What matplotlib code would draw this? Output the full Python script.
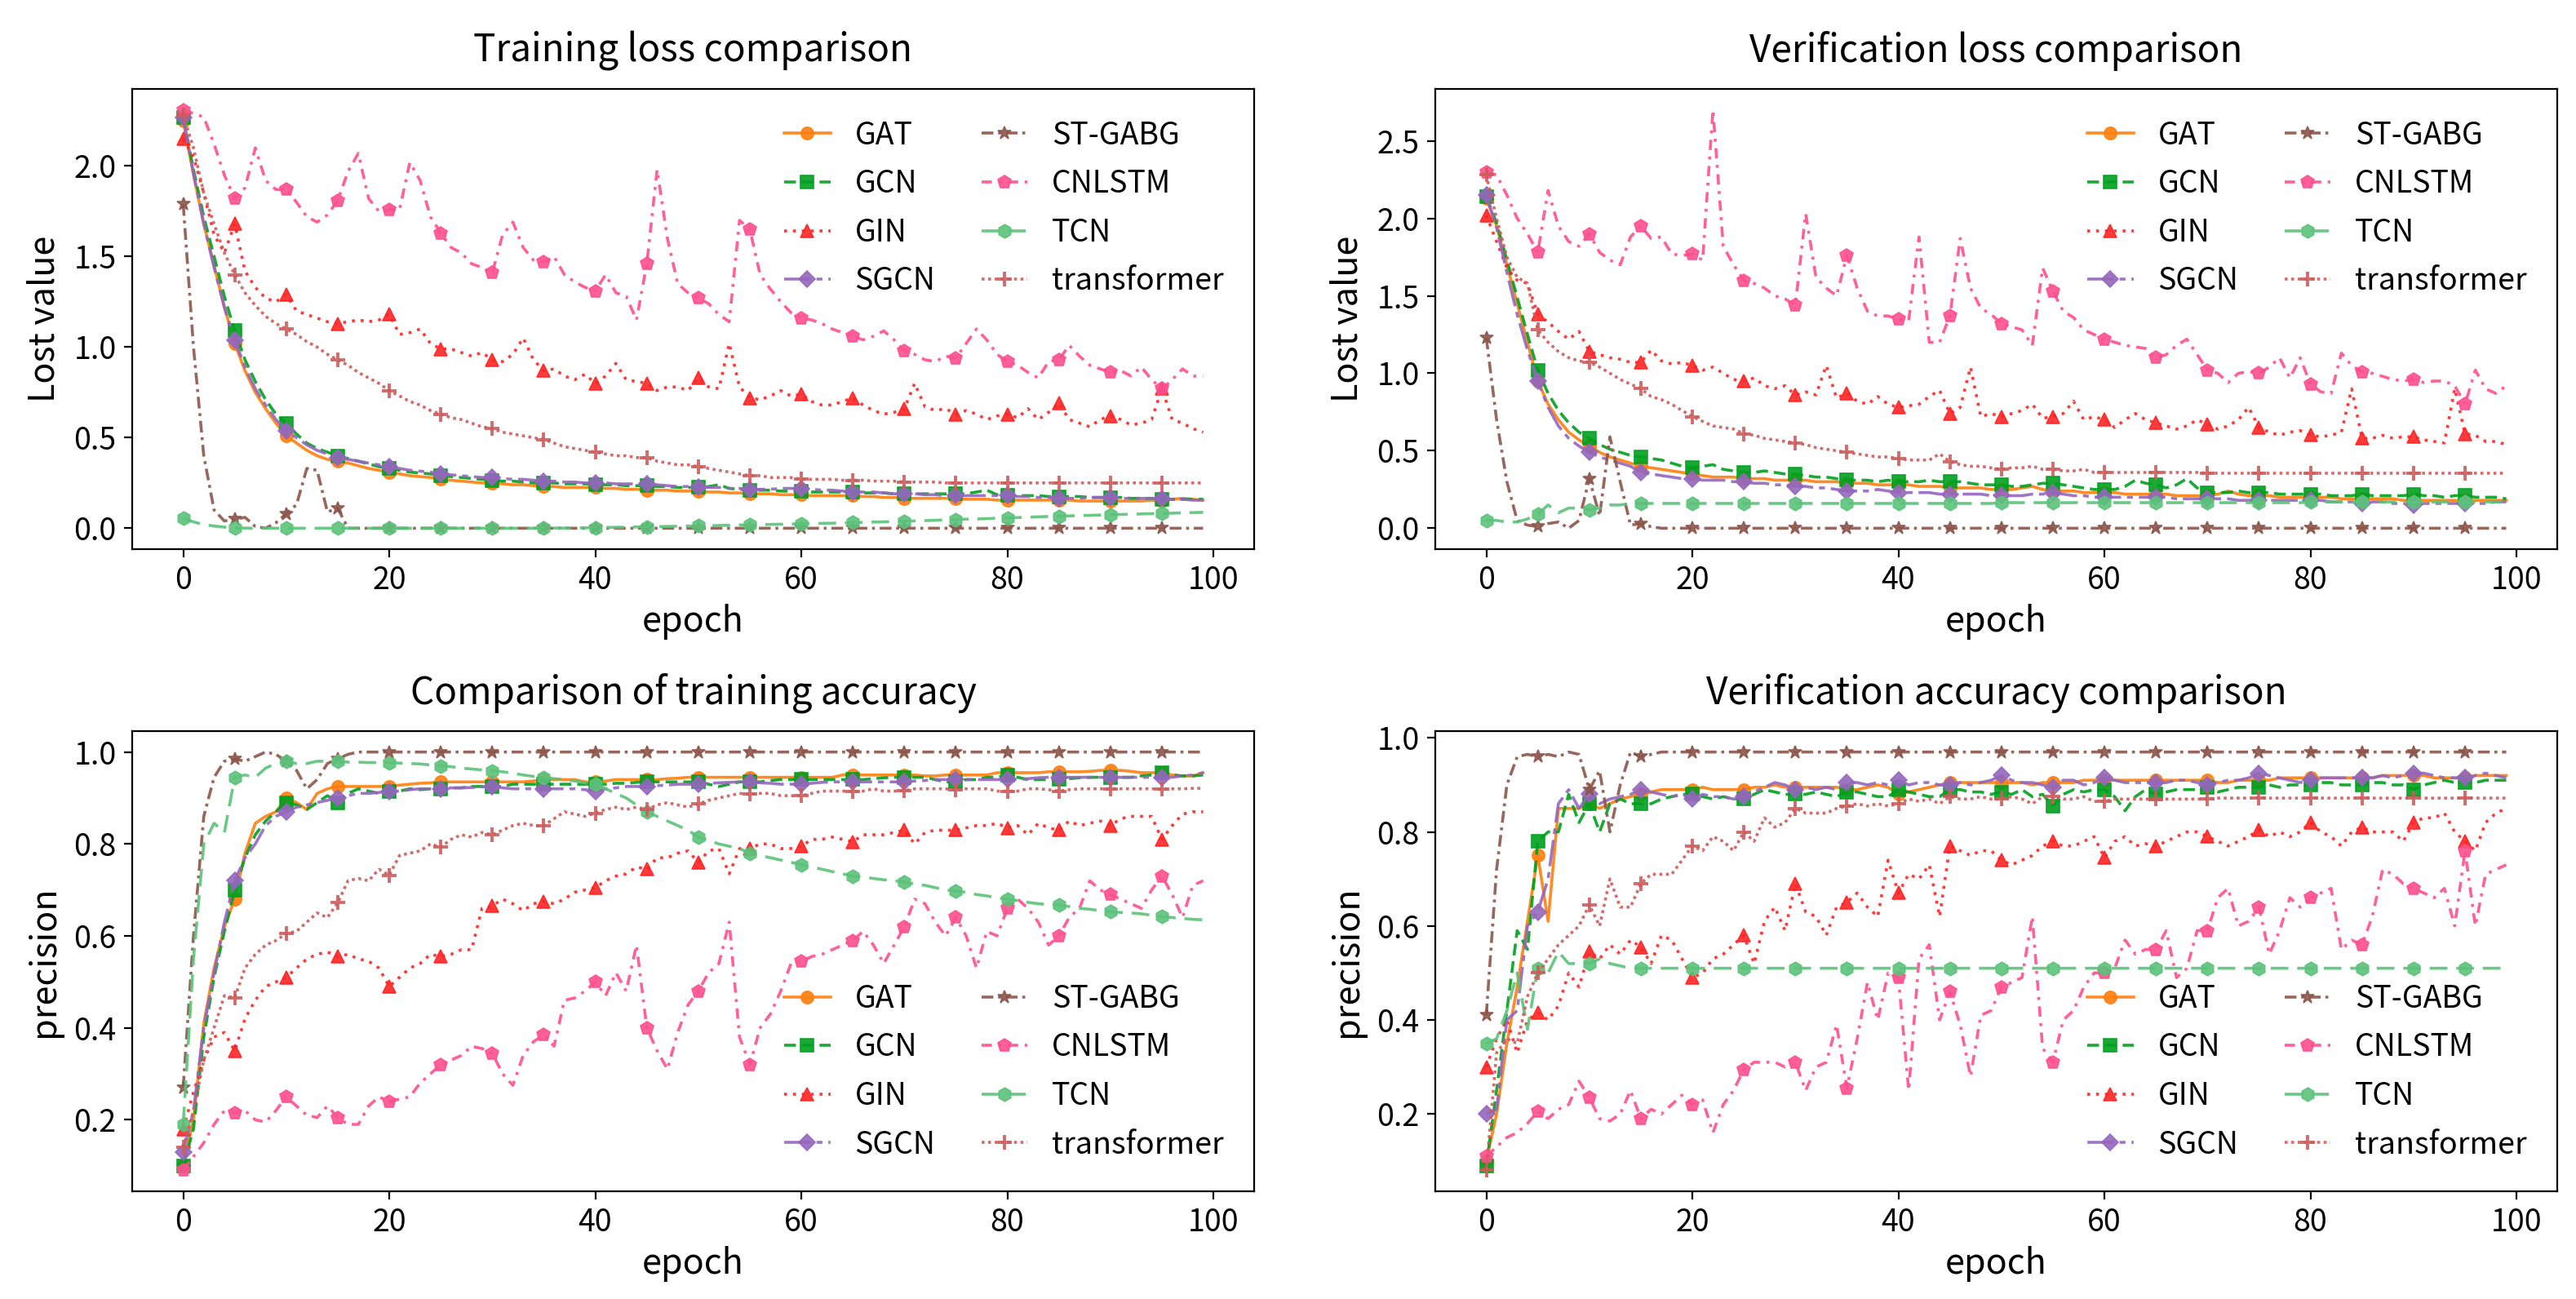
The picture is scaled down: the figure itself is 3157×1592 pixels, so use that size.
import matplotlib
matplotlib.use("Agg")
import matplotlib.pyplot as plt
import numpy as np

plt.rcParams['font.family'] = ['Noto Sans CJK SC', 'DejaVu Sans']

epochs = list(range(100))
models = ["GAT", "GCN", "GIN", "SGCN", "ST-GABG", "CNLSTM", "TCN", "transformer"]

# ---------------- Training loss ----------------
TL_GAT = [2.25,1.95,1.68,1.45,1.22,1.02,0.87,0.75,0.66,0.58,
          0.51,0.47,0.43,0.40,0.38,0.37,0.36,0.345,0.33,0.32,
          0.31,0.30,0.29,0.285,0.28,0.27,0.265,0.26,0.255,0.25,
          0.25,0.245,0.24,0.24,0.235,0.23,0.23,0.225,0.225,0.225,
          0.225,0.22,0.22,0.215,0.215,0.21,0.21,0.21,0.205,0.205,
          0.205,0.20,0.20,0.195,0.195,0.19,0.19,0.19,0.185,0.185,
          0.185,0.18,0.18,0.18,0.18,0.18,0.175,0.175,0.17,0.17,
          0.165,0.165,0.165,0.165,0.165,0.165,0.16,0.16,0.16,0.155,
          0.155,0.155,0.155,0.155,0.155,0.155,0.155,0.15,0.15,0.15,
          0.15,0.15,0.15,0.15,0.155,0.15,0.16,0.165,0.16,0.155]
TL_GCN = [2.27,1.98,1.72,1.50,1.28,1.09,0.93,0.81,0.71,0.63,
          0.58,0.52,0.47,0.44,0.42,0.40,0.385,0.37,0.355,0.34,
          0.33,0.32,0.31,0.305,0.30,0.29,0.285,0.28,0.275,0.27,
          0.265,0.26,0.26,0.255,0.25,0.25,0.25,0.245,0.245,0.245,
          0.24,0.24,0.24,0.235,0.235,0.235,0.23,0.23,0.225,0.225,
          0.225,0.23,0.24,0.22,0.215,0.21,0.21,0.21,0.205,0.205,
          0.205,0.20,0.20,0.20,0.20,0.20,0.195,0.195,0.195,0.19,
          0.19,0.19,0.19,0.19,0.19,0.19,0.19,0.20,0.21,0.185,
          0.18,0.18,0.18,0.18,0.175,0.175,0.175,0.175,0.17,0.17,
          0.17,0.17,0.165,0.165,0.165,0.16,0.16,0.16,0.16,0.16]
TL_GIN = [2.15,2.05,1.85,1.62,1.52,1.68,1.42,1.33,1.27,1.25,
          1.29,1.20,1.18,1.16,1.14,1.13,1.14,1.15,1.14,1.15,
          1.18,1.07,1.08,1.10,1.02,0.99,0.99,0.97,0.95,0.97,
          0.93,0.92,0.96,1.05,0.93,0.87,0.88,0.84,0.82,0.85,
          0.80,0.84,0.91,0.82,0.81,0.80,0.76,0.78,0.78,0.76,
          0.83,0.78,0.77,1.02,0.78,0.72,0.71,0.73,0.76,0.73,
          0.74,0.70,0.68,0.68,0.70,0.72,0.68,0.65,0.63,0.64,
          0.66,0.80,0.67,0.65,0.66,0.63,0.65,0.63,0.60,0.62,
          0.63,0.61,0.66,0.60,0.64,0.69,0.60,0.58,0.56,0.60,
          0.62,0.60,0.57,0.58,0.60,0.77,0.60,0.58,0.55,0.53]
TL_SGCN = [2.27,1.96,1.68,1.44,1.22,1.04,0.89,0.77,0.68,0.60,
           0.54,0.50,0.46,0.43,0.41,0.39,0.38,0.37,0.36,0.35,
           0.34,0.33,0.32,0.315,0.31,0.30,0.295,0.29,0.285,0.28,
           0.28,0.275,0.27,0.27,0.265,0.26,0.26,0.255,0.255,0.25,
           0.25,0.25,0.245,0.245,0.245,0.245,0.24,0.235,0.23,0.23,
           0.225,0.225,0.225,0.22,0.22,0.215,0.215,0.215,0.22,0.22,
           0.22,0.215,0.21,0.21,0.205,0.20,0.20,0.20,0.195,0.19,
           0.19,0.19,0.185,0.185,0.18,0.18,0.18,0.18,0.18,0.18,
           0.18,0.175,0.175,0.17,0.17,0.165,0.165,0.165,0.17,0.17,
           0.17,0.165,0.165,0.165,0.165,0.165,0.16,0.16,0.155,0.155]
TL_SGABG = [1.79,1.00,0.40,0.10,0.04,0.05,0.06,0.01,0.0,0.03,
            0.08,0.13,0.33,0.32,0.09,0.11,0.0,0.0,0.0,0.0,
            0.0,0.0,0.0,0.0,0.0,0.0,0.0,0.0,0.0,0.0,
            0.0,0.0,0.0,0.0,0.0,0.0,0.0,0.0,0.0,0.0,
            0.0,0.0,0.0,0.0,0.0,0.0,0.0,0.0,0.0,0.0,
            0.0,0.0,0.0,0.0,0.0,0.0,0.0,0.0,0.0,0.0,
            0.0,0.0,0.0,0.0,0.0,0.0,0.0,0.0,0.0,0.0,
            0.0,0.0,0.0,0.0,0.0,0.0,0.0,0.0,0.0,0.0,
            0.0,0.0,0.0,0.0,0.0,0.0,0.0,0.0,0.0,0.0,
            0.0,0.0,0.0,0.0,0.0,0.0,0.0,0.0,0.0,0.0]
TL_CNLSTM = [2.31,2.29,2.27,2.12,1.95,1.82,1.88,2.10,1.92,1.87,
             1.87,1.80,1.72,1.69,1.73,1.81,1.97,2.07,1.82,1.75,
             1.76,1.76,2.02,1.92,1.72,1.63,1.55,1.52,1.46,1.44,
             1.41,1.62,1.69,1.55,1.48,1.47,1.50,1.40,1.36,1.33,
             1.31,1.40,1.30,1.28,1.15,1.46,1.98,1.60,1.35,1.30,
             1.27,1.24,1.18,1.14,1.70,1.65,1.40,1.32,1.25,1.19,
             1.16,1.15,1.13,1.10,1.08,1.06,1.04,1.06,1.09,1.04,
             0.98,0.96,0.93,0.92,0.95,0.94,1.02,1.10,1.04,0.96,
             0.92,0.90,0.86,0.83,0.92,0.93,1.01,0.95,0.90,0.88,
             0.86,0.87,0.84,0.89,0.82,0.77,0.82,0.88,0.84,0.84]
TL_TCN = [0.055,0.035,0.02,0.012,0.006,0.002,0.001,0.0,0.0,0.0,
          0.0,0.0,0.0,0.0,0.0,0.0,0.0,0.0,0.0,0.0,
          0.0,0.0,0.0,0.0,0.0,0.0,0.0,0.0,0.0,0.0,
          0.0,0.0,0.0,0.0,0.0,0.0,0.001,0.001,0.002,0.002,
          0.003,0.004,0.005,0.006,0.007,0.008,0.009,0.01,0.011,0.012,
          0.013,0.014,0.015,0.016,0.018,0.019,0.02,0.021,0.022,0.023,
          0.025,0.026,0.027,0.028,0.03,0.031,0.032,0.034,0.035,0.037,
          0.039,0.04,0.042,0.044,0.046,0.048,0.05,0.051,0.053,0.055,
          0.057,0.059,0.061,0.063,0.065,0.066,0.068,0.07,0.071,0.073,
          0.074,0.076,0.077,0.079,0.08,0.082,0.083,0.085,0.086,0.088]
TL_TRANS = [2.28,2.10,1.85,1.68,1.52,1.40,1.30,1.23,1.17,1.13,
            1.10,1.07,1.03,1.00,0.96,0.93,0.90,0.86,0.83,0.80,
            0.76,0.73,0.70,0.68,0.65,0.63,0.61,0.60,0.58,0.56,
            0.55,0.53,0.52,0.51,0.50,0.49,0.47,0.45,0.44,0.43,
            0.42,0.41,0.40,0.40,0.39,0.39,0.37,0.36,0.35,0.35,
            0.34,0.33,0.32,0.31,0.30,0.29,0.29,0.28,0.28,0.28,
            0.27,0.27,0.27,0.27,0.265,0.265,0.265,0.26,0.26,0.26,
            0.255,0.255,0.255,0.255,0.25,0.25,0.25,0.25,0.25,0.25,
            0.25,0.25,0.25,0.25,0.25,0.25,0.25,0.25,0.25,0.25,
            0.25,0.25,0.25,0.25,0.25,0.25,0.25,0.25,0.25,0.25]

# ---------------- Verification loss ----------------
VL_GAT = [2.13,1.95,1.70,1.45,1.20,0.95,0.80,0.70,0.62,0.57,
          0.53,0.49,0.46,0.44,0.42,0.40,0.39,0.38,0.37,0.36,
          0.35,0.34,0.33,0.33,0.33,0.32,0.32,0.32,0.31,0.31,
          0.31,0.31,0.30,0.30,0.30,0.29,0.29,0.29,0.28,0.28,
          0.28,0.28,0.27,0.27,0.27,0.26,0.26,0.26,0.26,0.25,
          0.25,0.25,0.26,0.27,0.25,0.24,0.24,0.24,0.23,0.23,
          0.23,0.23,0.22,0.22,0.22,0.22,0.22,0.21,0.21,0.21,
          0.21,0.22,0.24,0.22,0.21,0.21,0.21,0.20,0.20,0.20,
          0.20,0.20,0.20,0.19,0.19,0.19,0.19,0.19,0.19,0.18,
          0.18,0.18,0.18,0.18,0.18,0.18,0.18,0.18,0.18,0.18]
VL_GCN = [2.14,1.97,1.73,1.49,1.25,1.02,0.87,0.76,0.68,0.62,
          0.58,0.54,0.51,0.49,0.47,0.46,0.45,0.44,0.42,0.40,
          0.39,0.40,0.41,0.38,0.37,0.36,0.36,0.37,0.36,0.35,
          0.35,0.34,0.33,0.33,0.32,0.31,0.31,0.31,0.30,0.31,
          0.30,0.30,0.30,0.31,0.30,0.30,0.30,0.29,0.28,0.28,
          0.28,0.27,0.27,0.28,0.29,0.29,0.28,0.27,0.26,0.25,
          0.25,0.25,0.27,0.31,0.29,0.28,0.26,0.28,0.32,0.26,
          0.23,0.23,0.23,0.24,0.23,0.23,0.23,0.22,0.22,0.22,
          0.22,0.22,0.21,0.21,0.21,0.22,0.21,0.21,0.21,0.21,
          0.22,0.21,0.21,0.20,0.21,0.21,0.20,0.20,0.20,0.19]
VL_GIN = [2.02,1.85,1.68,1.60,1.58,1.38,1.33,1.27,1.22,1.27,
          1.14,1.12,1.10,1.09,1.07,1.07,1.15,1.08,1.06,1.07,
          1.05,1.02,1.04,1.00,0.96,0.95,0.97,0.92,0.90,0.92,
          0.86,0.88,0.86,1.05,0.84,0.87,0.82,0.80,0.85,0.80,
          0.78,0.79,0.80,0.85,0.89,0.74,0.78,1.04,0.72,0.74,
          0.72,0.74,0.76,0.80,0.71,0.72,0.74,0.82,0.70,0.72,
          0.70,0.65,0.70,0.74,0.70,0.68,0.66,0.64,0.66,0.70,
          0.67,0.64,0.66,0.70,0.78,0.65,0.62,0.60,0.62,0.63,
          0.60,0.59,0.60,0.62,0.90,0.58,0.58,0.60,0.58,0.59,
          0.59,0.57,0.56,0.55,0.90,0.61,0.60,0.56,0.56,0.54]
VL_SGCN = [2.15,1.94,1.65,1.38,1.15,0.95,0.78,0.66,0.58,0.53,
           0.49,0.46,0.44,0.42,0.40,0.36,0.35,0.34,0.33,0.32,
           0.32,0.31,0.31,0.31,0.30,0.30,0.29,0.29,0.28,0.28,
           0.27,0.27,0.26,0.26,0.25,0.24,0.24,0.24,0.25,0.24,
           0.23,0.23,0.23,0.23,0.22,0.22,0.22,0.22,0.22,0.21,
           0.21,0.21,0.21,0.22,0.22,0.23,0.22,0.21,0.21,0.20,
           0.20,0.20,0.20,0.20,0.20,0.20,0.20,0.19,0.19,0.19,
           0.19,0.19,0.19,0.18,0.18,0.18,0.18,0.18,0.18,0.18,
           0.18,0.18,0.17,0.17,0.17,0.16,0.17,0.17,0.16,0.16,
           0.15,0.16,0.16,0.16,0.16,0.16,0.16,0.16,0.17,0.17]
VL_SGABG = [1.23,0.70,0.30,0.05,0.02,0.01,0.03,0.04,0.0,0.05,
            0.32,0.08,0.59,0.30,0.02,0.03,0.01,0.0,0.0,0.0,
            0.0,0.0,0.0,0.0,0.0,0.0,0.0,0.0,0.0,0.0,
            0.0,0.0,0.0,0.0,0.0,0.0,0.0,0.0,0.0,0.0,
            0.0,0.0,0.0,0.0,0.0,0.0,0.0,0.0,0.0,0.0,
            0.0,0.0,0.0,0.0,0.0,0.0,0.0,0.0,0.0,0.0,
            0.0,0.0,0.0,0.0,0.0,0.0,0.0,0.0,0.0,0.0,
            0.0,0.0,0.0,0.0,0.0,0.0,0.0,0.0,0.0,0.0,
            0.0,0.0,0.0,0.0,0.0,0.0,0.0,0.0,0.0,0.0,
            0.0,0.0,0.0,0.0,0.0,0.0,0.0,0.0,0.0,0.0]
VL_CNLSTM = [2.30,2.28,2.15,2.00,1.90,1.78,2.18,1.95,1.85,1.82,
             1.90,1.78,1.73,1.70,1.88,1.95,1.87,1.88,1.77,1.76,
             1.77,1.73,2.70,1.82,1.70,1.60,1.58,1.55,1.50,1.48,
             1.44,2.03,1.62,1.55,1.50,1.76,1.55,1.40,1.37,1.37,
             1.35,1.34,1.88,1.20,1.20,1.37,1.87,1.55,1.42,1.38,
             1.32,1.30,1.28,1.18,1.68,1.53,1.40,1.36,1.28,1.25,
             1.22,1.20,1.18,1.17,1.16,1.10,1.12,1.18,1.22,1.12,
             1.02,1.00,0.94,1.00,1.01,1.00,1.04,1.10,0.97,1.10,
             0.93,0.88,0.87,1.13,1.05,1.01,1.00,0.98,0.96,0.95,
             0.96,0.94,0.95,0.95,0.92,0.80,1.02,0.90,0.87,0.92]
VL_TCN = [0.05,0.05,0.04,0.04,0.06,0.09,0.15,0.10,0.13,0.13,
          0.12,0.13,0.15,0.15,0.16,0.16,0.16,0.16,0.16,0.16,
          0.16,0.16,0.16,0.16,0.16,0.16,0.16,0.16,0.16,0.16,
          0.16,0.16,0.16,0.16,0.16,0.16,0.16,0.16,0.16,0.16,
          0.16,0.16,0.16,0.16,0.16,0.16,0.16,0.16,0.16,0.16,
          0.165,0.165,0.165,0.165,0.165,0.165,0.165,0.165,0.165,0.165,
          0.165,0.165,0.165,0.165,0.165,0.165,0.165,0.165,0.165,0.165,
          0.165,0.165,0.165,0.165,0.165,0.165,0.165,0.165,0.165,0.165,
          0.17,0.17,0.17,0.17,0.17,0.17,0.17,0.17,0.17,0.17,
          0.17,0.17,0.17,0.17,0.17,0.17,0.17,0.17,0.17,0.17]
VL_TRANS = [2.28,2.00,1.75,1.62,1.58,1.28,1.20,1.14,1.10,1.08,
            1.07,1.04,1.00,0.96,0.93,0.90,0.85,0.83,0.80,0.76,
            0.72,0.69,0.66,0.65,0.64,0.61,0.60,0.58,0.57,0.56,
            0.55,0.54,0.52,0.51,0.50,0.49,0.48,0.47,0.46,0.46,
            0.45,0.44,0.44,0.44,0.48,0.43,0.41,0.40,0.40,0.39,
            0.38,0.39,0.39,0.40,0.38,0.38,0.37,0.37,0.38,0.36,
            0.36,0.36,0.36,0.36,0.36,0.36,0.36,0.36,0.36,0.36,
            0.355,0.355,0.355,0.355,0.355,0.355,0.355,0.355,0.355,0.355,
            0.355,0.355,0.355,0.355,0.355,0.355,0.355,0.355,0.355,0.355,
            0.355,0.355,0.355,0.355,0.355,0.355,0.355,0.355,0.355,0.355]

# ---------------- Training accuracy ----------------
TA_GAT = [0.10,0.20,0.41,0.53,0.62,0.68,0.78,0.845,0.86,0.87,
          0.90,0.89,0.875,0.91,0.92,0.925,0.925,0.925,0.925,0.925,
          0.925,0.928,0.93,0.932,0.933,0.935,0.935,0.935,0.935,0.935,
          0.935,0.935,0.935,0.935,0.937,0.94,0.94,0.94,0.94,0.935,
          0.935,0.937,0.94,0.94,0.94,0.94,0.94,0.942,0.943,0.945,
          0.945,0.945,0.945,0.945,0.945,0.945,0.945,0.945,0.945,0.945,
          0.945,0.945,0.945,0.945,0.95,0.95,0.95,0.95,0.95,0.95,
          0.95,0.95,0.948,0.948,0.95,0.95,0.95,0.95,0.95,0.955,
          0.955,0.955,0.955,0.955,0.957,0.957,0.957,0.957,0.958,0.96,
          0.96,0.96,0.958,0.955,0.955,0.955,0.95,0.948,0.948,0.955]
TA_GCN = [0.10,0.18,0.38,0.51,0.61,0.70,0.77,0.82,0.85,0.87,
          0.89,0.885,0.875,0.89,0.905,0.89,0.91,0.92,0.915,0.91,
          0.915,0.915,0.92,0.918,0.92,0.92,0.922,0.922,0.925,0.925,
          0.925,0.925,0.93,0.93,0.93,0.93,0.93,0.93,0.93,0.93,
          0.93,0.93,0.932,0.932,0.934,0.935,0.935,0.935,0.935,0.935,
          0.935,0.93,0.925,0.93,0.935,0.935,0.935,0.938,0.94,0.94,
          0.94,0.94,0.94,0.94,0.94,0.94,0.94,0.942,0.944,0.945,
          0.945,0.945,0.945,0.94,0.935,0.935,0.94,0.94,0.945,0.945,
          0.95,0.945,0.94,0.94,0.94,0.94,0.942,0.944,0.945,0.945,
          0.945,0.945,0.945,0.948,0.95,0.955,0.95,0.948,0.948,0.95]
TA_GIN = [0.18,0.26,0.33,0.38,0.39,0.35,0.42,0.46,0.49,0.50,
          0.51,0.53,0.55,0.56,0.565,0.555,0.56,0.55,0.545,0.53,
          0.49,0.51,0.53,0.54,0.56,0.555,0.56,0.57,0.57,0.66,
          0.665,0.68,0.67,0.655,0.67,0.675,0.67,0.68,0.695,0.70,
          0.705,0.72,0.73,0.735,0.75,0.745,0.77,0.77,0.78,0.785,
          0.76,0.785,0.79,0.735,0.79,0.79,0.80,0.80,0.79,0.79,
          0.795,0.81,0.81,0.815,0.81,0.805,0.82,0.82,0.82,0.825,
          0.83,0.80,0.825,0.83,0.83,0.83,0.835,0.84,0.84,0.845,
          0.835,0.84,0.82,0.845,0.835,0.83,0.85,0.84,0.845,0.85,
          0.84,0.855,0.86,0.86,0.86,0.81,0.84,0.865,0.87,0.87]
TA_SGCN = [0.13,0.22,0.40,0.52,0.63,0.72,0.77,0.80,0.84,0.86,
           0.87,0.88,0.885,0.89,0.895,0.90,0.905,0.91,0.91,0.912,
           0.915,0.915,0.918,0.92,0.92,0.92,0.922,0.922,0.923,0.924,
           0.925,0.922,0.92,0.92,0.92,0.92,0.92,0.92,0.92,0.918,
           0.915,0.92,0.922,0.925,0.925,0.925,0.927,0.928,0.93,0.93,
           0.93,0.932,0.933,0.934,0.935,0.935,0.933,0.932,0.93,0.93,
           0.93,0.932,0.934,0.935,0.935,0.935,0.935,0.935,0.935,0.935,
           0.935,0.937,0.938,0.94,0.94,0.94,0.94,0.94,0.94,0.94,
           0.94,0.94,0.942,0.944,0.945,0.945,0.945,0.945,0.945,0.945,
           0.945,0.945,0.945,0.945,0.945,0.945,0.945,0.948,0.95,0.955]
TA_SGABG = [0.27,0.60,0.86,0.945,0.98,0.985,0.98,0.99,1.0,0.995,
            0.98,0.96,0.92,0.94,0.975,0.985,0.995,1.0,1.0,1.0,
            1.0,1.0,1.0,1.0,1.0,1.0,1.0,1.0,1.0,1.0,
            1.0,1.0,1.0,1.0,1.0,1.0,1.0,1.0,1.0,1.0,
            1.0,1.0,1.0,1.0,1.0,1.0,1.0,1.0,1.0,1.0,
            1.0,1.0,1.0,1.0,1.0,1.0,1.0,1.0,1.0,1.0,
            1.0,1.0,1.0,1.0,1.0,1.0,1.0,1.0,1.0,1.0,
            1.0,1.0,1.0,1.0,1.0,1.0,1.0,1.0,1.0,1.0,
            1.0,1.0,1.0,1.0,1.0,1.0,1.0,1.0,1.0,1.0,
            1.0,1.0,1.0,1.0,1.0,1.0,1.0,1.0,1.0,1.0]
TA_CNLSTM = [0.09,0.12,0.15,0.19,0.22,0.215,0.22,0.20,0.195,0.22,
             0.25,0.23,0.21,0.205,0.23,0.205,0.19,0.19,0.23,0.25,
             0.24,0.245,0.25,0.28,0.30,0.32,0.33,0.34,0.36,0.355,
             0.345,0.30,0.275,0.34,0.37,0.385,0.36,0.46,0.465,0.48,
             0.50,0.47,0.52,0.48,0.58,0.40,0.35,0.31,0.39,0.45,
             0.48,0.52,0.54,0.63,0.38,0.32,0.40,0.43,0.48,0.54,
             0.545,0.555,0.56,0.57,0.58,0.59,0.61,0.58,0.54,0.58,
             0.62,0.68,0.67,0.63,0.60,0.64,0.60,0.53,0.61,0.60,
             0.66,0.68,0.66,0.63,0.58,0.60,0.64,0.66,0.72,0.70,
             0.69,0.68,0.67,0.66,0.70,0.73,0.69,0.64,0.71,0.72]
TA_TCN = [0.19,0.55,0.80,0.845,0.825,0.945,0.95,0.945,0.965,0.975,
          0.98,0.975,0.975,0.98,0.98,0.98,0.978,0.978,0.977,0.977,
          0.977,0.976,0.975,0.974,0.972,0.97,0.968,0.965,0.963,0.961,
          0.959,0.957,0.954,0.95,0.947,0.945,0.942,0.94,0.937,0.933,
          0.93,0.92,0.91,0.90,0.885,0.87,0.86,0.85,0.84,0.83,
          0.815,0.808,0.80,0.795,0.79,0.78,0.775,0.77,0.765,0.76,
          0.755,0.75,0.745,0.74,0.735,0.73,0.728,0.725,0.722,0.72,
          0.717,0.713,0.71,0.705,0.70,0.698,0.695,0.69,0.687,0.683,
          0.68,0.677,0.673,0.67,0.668,0.667,0.664,0.66,0.658,0.655,
          0.653,0.651,0.65,0.648,0.645,0.642,0.64,0.638,0.636,0.635]
TA_TRANS = [0.14,0.22,0.33,0.40,0.47,0.465,0.53,0.56,0.58,0.59,
            0.605,0.61,0.63,0.65,0.64,0.672,0.72,0.725,0.72,0.745,
            0.732,0.775,0.78,0.785,0.80,0.793,0.81,0.82,0.815,0.825,
            0.82,0.83,0.84,0.845,0.84,0.84,0.855,0.87,0.865,0.86,
            0.867,0.875,0.88,0.875,0.88,0.875,0.885,0.89,0.885,0.88,
            0.887,0.895,0.90,0.905,0.91,0.908,0.91,0.91,0.905,0.905,
            0.905,0.91,0.915,0.915,0.915,0.914,0.915,0.92,0.915,0.915,
            0.916,0.92,0.92,0.92,0.92,0.917,0.92,0.92,0.92,0.915,
            0.915,0.915,0.92,0.92,0.918,0.915,0.918,0.92,0.92,0.92,
            0.92,0.92,0.92,0.92,0.92,0.919,0.92,0.92,0.921,0.921]

# ---------------- Verification accuracy ----------------
VA_GAT = [0.10,0.20,0.35,0.47,0.61,0.75,0.61,0.85,0.85,0.85,
          0.86,0.85,0.86,0.87,0.875,0.88,0.885,0.89,0.89,0.89,
          0.89,0.895,0.89,0.89,0.89,0.89,0.895,0.895,0.90,0.895,
          0.895,0.895,0.895,0.895,0.895,0.89,0.89,0.895,0.90,0.895,
          0.88,0.885,0.89,0.895,0.90,0.905,0.905,0.905,0.905,0.905,
          0.905,0.905,0.905,0.90,0.905,0.905,0.905,0.905,0.91,0.91,
          0.91,0.91,0.91,0.91,0.91,0.91,0.91,0.91,0.91,0.91,
          0.91,0.905,0.905,0.91,0.91,0.91,0.91,0.915,0.915,0.915,
          0.915,0.915,0.915,0.915,0.915,0.915,0.915,0.92,0.92,0.92,
          0.92,0.92,0.915,0.915,0.915,0.915,0.92,0.92,0.92,0.92]
VA_GCN = [0.09,0.25,0.42,0.59,0.55,0.78,0.80,0.80,0.88,0.82,
          0.86,0.80,0.86,0.87,0.86,0.86,0.86,0.87,0.875,0.88,
          0.88,0.875,0.87,0.875,0.87,0.87,0.88,0.89,0.885,0.88,
          0.88,0.88,0.885,0.88,0.875,0.885,0.885,0.88,0.875,0.875,
          0.89,0.885,0.88,0.875,0.875,0.89,0.89,0.885,0.885,0.88,
          0.885,0.88,0.89,0.875,0.88,0.855,0.88,0.89,0.885,0.89,
          0.89,0.875,0.845,0.875,0.89,0.88,0.885,0.89,0.89,0.89,
          0.895,0.885,0.89,0.895,0.895,0.895,0.90,0.895,0.90,0.90,
          0.90,0.905,0.905,0.90,0.90,0.90,0.905,0.905,0.90,0.90,
          0.89,0.90,0.905,0.91,0.905,0.905,0.905,0.91,0.91,0.91]
VA_GIN = [0.30,0.36,0.40,0.33,0.40,0.415,0.40,0.43,0.50,0.47,
          0.545,0.53,0.56,0.54,0.57,0.555,0.52,0.58,0.57,0.53,
          0.49,0.50,0.53,0.54,0.56,0.58,0.52,0.61,0.64,0.59,
          0.69,0.63,0.62,0.58,0.64,0.65,0.67,0.64,0.62,0.74,
          0.67,0.71,0.70,0.73,0.62,0.77,0.76,0.75,0.76,0.76,
          0.74,0.73,0.74,0.75,0.77,0.78,0.77,0.77,0.78,0.79,
          0.745,0.78,0.79,0.77,0.775,0.77,0.78,0.79,0.80,0.80,
          0.79,0.78,0.77,0.78,0.79,0.805,0.79,0.80,0.79,0.80,
          0.82,0.80,0.79,0.77,0.80,0.81,0.80,0.80,0.80,0.78,
          0.82,0.83,0.83,0.84,0.80,0.78,0.76,0.82,0.84,0.85]
VA_SGCN = [0.20,0.21,0.40,0.42,0.60,0.63,0.70,0.86,0.89,0.85,
           0.88,0.86,0.87,0.875,0.88,0.89,0.885,0.88,0.875,0.88,
           0.87,0.88,0.875,0.875,0.87,0.875,0.885,0.895,0.905,0.90,
           0.89,0.895,0.89,0.895,0.89,0.905,0.905,0.90,0.905,0.90,
           0.91,0.90,0.905,0.905,0.90,0.90,0.905,0.90,0.905,0.91,
           0.92,0.91,0.905,0.905,0.90,0.895,0.91,0.91,0.90,0.905,
           0.915,0.91,0.905,0.905,0.905,0.905,0.905,0.91,0.91,0.905,
           0.90,0.905,0.91,0.91,0.915,0.925,0.92,0.915,0.91,0.905,
           0.91,0.915,0.915,0.915,0.915,0.915,0.915,0.92,0.915,0.92,
           0.925,0.925,0.92,0.915,0.915,0.915,0.92,0.925,0.92,0.915]
VA_SGABG = [0.41,0.72,0.90,0.96,0.965,0.96,0.965,0.96,0.97,0.965,
            0.89,0.93,0.80,0.90,0.97,0.96,0.965,0.97,0.97,0.97,
            0.97,0.97,0.97,0.97,0.97,0.97,0.97,0.97,0.97,0.97,
            0.97,0.97,0.97,0.97,0.97,0.97,0.97,0.97,0.97,0.97,
            0.97,0.97,0.97,0.97,0.97,0.97,0.97,0.97,0.97,0.97,
            0.97,0.97,0.97,0.97,0.97,0.97,0.97,0.97,0.97,0.97,
            0.97,0.97,0.97,0.97,0.97,0.97,0.97,0.97,0.97,0.97,
            0.97,0.97,0.97,0.97,0.97,0.97,0.97,0.97,0.97,0.97,
            0.97,0.97,0.97,0.97,0.97,0.97,0.97,0.97,0.97,0.97,
            0.97,0.97,0.97,0.97,0.97,0.97,0.97,0.97,0.97,0.97]
VA_CNLSTM = [0.11,0.13,0.15,0.16,0.18,0.205,0.19,0.21,0.22,0.27,
             0.235,0.19,0.185,0.20,0.25,0.19,0.21,0.20,0.22,0.24,
             0.22,0.23,0.16,0.22,0.25,0.295,0.31,0.31,0.31,0.30,
             0.31,0.25,0.30,0.31,0.39,0.255,0.36,0.48,0.40,0.50,
             0.49,0.25,0.53,0.56,0.40,0.46,0.39,0.28,0.41,0.42,
             0.47,0.48,0.49,0.62,0.34,0.31,0.40,0.42,0.47,0.50,
             0.50,0.51,0.57,0.54,0.55,0.55,0.59,0.49,0.51,0.59,
             0.59,0.66,0.68,0.60,0.61,0.64,0.54,0.59,0.66,0.64,
             0.66,0.67,0.68,0.55,0.57,0.56,0.62,0.72,0.71,0.69,
             0.68,0.67,0.66,0.68,0.60,0.76,0.60,0.71,0.72,0.73]
VA_TCN = [0.35,0.36,0.42,0.50,0.38,0.51,0.50,0.545,0.52,0.52,
          0.52,0.53,0.52,0.515,0.51,0.51,0.51,0.51,0.51,0.51,
          0.51,0.51,0.51,0.51,0.51,0.51,0.51,0.51,0.51,0.51,
          0.51,0.51,0.51,0.51,0.51,0.51,0.51,0.51,0.51,0.51,
          0.51,0.51,0.51,0.51,0.51,0.51,0.51,0.51,0.51,0.51,
          0.51,0.51,0.51,0.51,0.51,0.51,0.51,0.51,0.51,0.51,
          0.51,0.51,0.51,0.51,0.51,0.51,0.51,0.51,0.51,0.51,
          0.51,0.51,0.51,0.51,0.51,0.51,0.51,0.51,0.51,0.51,
          0.51,0.51,0.51,0.51,0.51,0.51,0.51,0.51,0.51,0.51,
          0.51,0.51,0.51,0.51,0.51,0.51,0.51,0.51,0.51,0.51]
VA_TRANS = [0.08,0.33,0.36,0.35,0.45,0.50,0.53,0.56,0.58,0.60,
            0.645,0.60,0.70,0.64,0.64,0.69,0.71,0.71,0.71,0.74,
            0.77,0.76,0.79,0.78,0.76,0.80,0.78,0.83,0.81,0.82,
            0.85,0.84,0.84,0.84,0.85,0.855,0.86,0.855,0.86,0.855,
            0.86,0.87,0.865,0.87,0.86,0.875,0.87,0.87,0.875,0.87,
            0.87,0.875,0.87,0.86,0.875,0.875,0.87,0.87,0.875,0.865,
            0.865,0.87,0.87,0.87,0.87,0.87,0.87,0.87,0.87,0.87,
            0.87,0.872,0.872,0.872,0.872,0.872,0.872,0.872,0.872,0.872,
            0.872,0.872,0.872,0.872,0.872,0.872,0.872,0.872,0.872,0.872,
            0.872,0.872,0.872,0.872,0.872,0.872,0.872,0.872,0.872,0.872]

panels = [
    ("Training loss comparison", "Lost value",
     [TL_GAT, TL_GCN, TL_GIN, TL_SGCN, TL_SGABG, TL_CNLSTM, TL_TCN, TL_TRANS], "upper right"),
    ("Verification loss comparison", "Lost value",
     [VL_GAT, VL_GCN, VL_GIN, VL_SGCN, VL_SGABG, VL_CNLSTM, VL_TCN, VL_TRANS], "upper right"),
    ("Comparison of training accuracy", "precision",
     [TA_GAT, TA_GCN, TA_GIN, TA_SGCN, TA_SGABG, TA_CNLSTM, TA_TCN, TA_TRANS], "lower right"),
    ("Verification accuracy comparison", "precision",
     [VA_GAT, VA_GCN, VA_GIN, VA_SGCN, VA_SGABG, VA_CNLSTM, VA_TCN, VA_TRANS], "lower right"),
]

styles = [
    dict(color="#ff7f0e", ls="-", marker="o"),
    dict(color="#00a01e", ls=(0, (4, 2)), marker="s"),
    dict(color="#ff2424", ls=(0, (1, 2)), marker="^"),
    dict(color="#9467bd", ls=(0, (9, 2, 2, 2)), marker="D"),
    dict(color="#8c564b", ls=(0, (4, 1.6, 1, 1.6)), marker="*"),
    dict(color="#ff4f8e", ls=(0, (3.5, 2.2, 1, 2.2)), marker="p"),
    dict(color="#5cc27a", ls=(0, (6, 3)), marker="h"),
    dict(color="#cd5c5c", ls=(0, (1, 1.2)), marker="+"),
]
msizes = [5.5, 5.5, 6, 5, 6, 6, 6, 6.5]

fig = plt.figure(figsize=(15.785, 7.96), dpi=200)
W, H = 3157, 1592
lefts = [162 / W, 1759 / W]
bottoms = [1 - 673 / H, 1 - 1460 / H]
aw = 1375 / W
ah = 564 / H

for i, (title, ylab, series, loc) in enumerate(panels):
    r, c = divmod(i, 2)
    ax = fig.add_axes([lefts[c], bottoms[r], aw, ah])
    for name, ys, st, ms in zip(models, series, styles, msizes):
        ax.plot(epochs, ys, color=st["color"], linestyle=st["ls"], marker=st["marker"],
                markevery=5, markersize=ms, linewidth=1.3, alpha=0.9, label=name,
                markeredgewidth=1.4 if st["marker"] == "+" else 0.6)
    ax.set_title(title, fontsize=16.5, pad=12)
    ax.set_xlabel("epoch", fontsize=15.5, labelpad=3)
    ax.set_ylabel(ylab, fontsize=15.5, labelpad=5)
    ax.tick_params(labelsize=13.5)
    ax.set_xticks([0, 20, 40, 60, 80, 100])
    ax.legend(loc=loc, ncol=2, frameon=False, fontsize=13.5, handlelength=1.5,
              columnspacing=1.5, labelspacing=0.55, borderaxespad=0.6)

fig.savefig("out.png", dpi=200)
